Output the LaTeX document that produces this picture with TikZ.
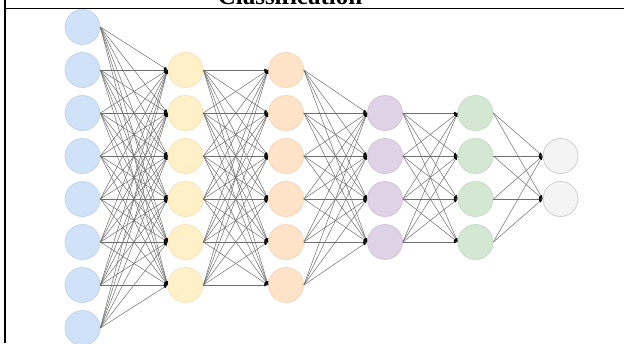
\documentclass[tikz,border=0pt]{standalone}
\usepackage{fontspec}
\setmainfont{Liberation Serif}
\usetikzlibrary{arrows.meta}
\definecolor{cA}{HTML}{D0E2F8}\definecolor{cAd}{HTML}{BED2EE}
\definecolor{cB}{HTML}{FFF0C8}\definecolor{cBd}{HTML}{F3E2B4}
\definecolor{cC}{HTML}{FFE3C8}\definecolor{cCd}{HTML}{F2D4B6}
\definecolor{cD}{HTML}{DFD2E7}\definecolor{cDd}{HTML}{D0C2DA}
\definecolor{cE}{HTML}{D3E7D2}\definecolor{cEd}{HTML}{C3D9C2}
\definecolor{cF}{HTML}{F4F4F4}\definecolor{cFd}{HTML}{CACACA}
\definecolor{linkgray}{HTML}{6E6E6E}
\begin{document}
\begin{tikzpicture}[x=1pt,y=-1pt,
  neuron/.style={circle,minimum size=35pt,inner sep=0pt,line width=0.7pt},
  link/.style={draw=linkgray,line width=0.5pt,-{Latex[length=3.8pt,width=2.8pt,color=black]}},
  frame/.style={line width=1.5pt,black}]
\useasboundingbox (0,0) rectangle (624,343);
\clip (0,0) rectangle (624,343);
\node[anchor=base,inner sep=0pt,font=\fontsize{25}{30}\selectfont\bfseries] (title) at (290,4) {Classification};
\coordinate (tl) at (5,0); \coordinate (bl) at (5,343);
\coordinate (hl) at (5,8.5); \coordinate (hr) at (624,8.5);
\draw[frame] (tl) -- (bl);
\draw[frame] (hl) -- (hr);
\foreach \i in {1,...,8} \node[neuron,fill=cA,draw=cAd] (a\i) at (82.5,{27+43*(\i-1)}) {};
\foreach \i in {1,...,6} \node[neuron,fill=cB,draw=cBd] (b\i) at (185.5,{70+43*(\i-1)}) {};
\foreach \i in {1,...,6} \node[neuron,fill=cC,draw=cCd] (c\i) at (286,{70+43*(\i-1)}) {};
\foreach \i in {1,...,4} \node[neuron,fill=cD,draw=cDd] (d\i) at (385,{113+43*(\i-1)}) {};
\foreach \i in {1,...,4} \node[neuron,fill=cE,draw=cEd] (e\i) at (475.5,{113+43*(\i-1)}) {};
\foreach \i in {1,2} \node[neuron,fill=cF,draw=cFd] (f\i) at (560.5,{156+43*(\i-1)}) {};
\foreach \i in {1,...,8} \foreach \j in {1,...,6} \draw[link] (a\i.east) -- (b\j.west);
\foreach \i in {1,...,6} \foreach \j in {1,...,6} \draw[link] (b\i.east) -- (c\j.west);
\foreach \i in {1,...,6} \foreach \j in {1,...,4} \draw[link] (c\i.east) -- (d\j.west);
\foreach \i in {1,...,4} \foreach \j in {1,...,4} \draw[link] (d\i.east) -- (e\j.west);
\foreach \i in {1,...,4} \foreach \j in {1,2} \draw[link] (e\i.east) -- (f\j.west);
\end{tikzpicture}
\end{document}
